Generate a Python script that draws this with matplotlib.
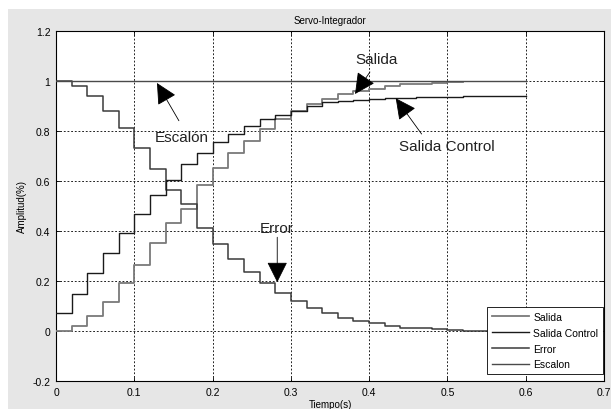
import matplotlib
matplotlib.use("Agg")
import matplotlib.pyplot as plt
from matplotlib.patches import Rectangle, FancyArrowPatch

# ---- data ----
t_salida = [0.00, 0.02, 0.04, 0.06, 0.08, 0.10, 0.12, 0.14, 0.16, 0.18, 0.20, 0.22, 0.24,
            0.26, 0.28, 0.30, 0.32, 0.34, 0.36, 0.38, 0.40, 0.42, 0.44, 0.46, 0.48, 0.50, 0.52]
salida = [0.0, 0.02, 0.059, 0.115, 0.191, 0.265, 0.352, 0.432, 0.49, 0.584, 0.651, 0.711, 0.761,
          0.808, 0.848, 0.88, 0.908, 0.929, 0.947, 0.96, 0.969, 0.98, 0.987, 0.989, 0.992, 0.996, 0.996]

t_full = [0.00, 0.02, 0.04, 0.06, 0.08, 0.10, 0.12, 0.14, 0.16, 0.18, 0.20, 0.22, 0.24, 0.26,
          0.28, 0.30, 0.32, 0.34, 0.36, 0.38, 0.40, 0.42, 0.44, 0.46, 0.48, 0.50, 0.52, 0.54,
          0.56, 0.58, 0.60]
salida_control = [0.072, 0.148, 0.231, 0.312, 0.392, 0.468, 0.544, 0.604, 0.668, 0.711, 0.755,
                  0.79, 0.822, 0.848, 0.866, 0.881, 0.899, 0.915, 0.922, 0.925, 0.928, 0.931,
                  0.933, 0.935, 0.937, 0.938, 0.939, 0.94, 0.94, 0.94, 0.94]
error = [1.0, 0.98, 0.94, 0.881, 0.811, 0.732, 0.65, 0.565, 0.508, 0.412, 0.348, 0.287, 0.237,
         0.191, 0.152, 0.122, 0.092, 0.071, 0.053, 0.04, 0.031, 0.02, 0.013, 0.011, 0.008,
         0.004, 0.0, 0.0, 0.0, 0.0, 0.0]
t_escalon = [0.0, 0.6]
escalon = [1.0, 1.0]

x_ticks = [0, 0.1, 0.2, 0.3, 0.4, 0.5, 0.6, 0.7]
x_ticklabels = ["0", "0.1", "0.2", "0.3", "0.4", "0.5", "0.6", "0.7"]
y_ticks = [-0.2, 0, 0.2, 0.4, 0.6, 0.8, 1.0, 1.2]
y_ticklabels = ["-0.2", "0", "0.2", "0.4", "0.6", "0.8", "1", "1.2"]

plt.rcParams['font.family'] = ['Liberation Sans', 'DejaVu Sans']

W, H = 611, 410
fig = plt.figure(figsize=(W / 100, H / 100), dpi=100, facecolor='white')
fig.patches.append(Rectangle((8 / W, 0), 1 - 8 / W, 1 - 10 / H, transform=fig.transFigure,
                             facecolor='#e6e6e6', edgecolor='none', zorder=-10))

ax = fig.add_axes([56 / W, (H - 382) / H, (604 - 56) / W, (382 - 32) / H])
ax.set_facecolor('white')

ax.plot(t_salida, salida, drawstyle='steps-post', color='#7a7a7a', lw=1.3, label='Salida', zorder=3)
ax.plot(t_full, salida_control, drawstyle='steps-post', color='#1a1a1a', lw=1.0,
        label='Salida Control', zorder=4)
ax.plot(t_full, error, drawstyle='steps-post', color='#3a3a3a', lw=1.1, label='Error', zorder=3)
ax.plot(t_escalon, escalon, color='#4a4a4a', lw=1.0, label='Escalon', zorder=3)

ax.set_xlim(0, 0.7)
ax.set_ylim(-0.2, 1.2)
ax.set_xticks(x_ticks)
ax.set_xticklabels(x_ticklabels)
ax.set_yticks(y_ticks)
ax.set_yticklabels(y_ticklabels)
ax.tick_params(direction='in', length=3, width=0.6, labelsize=7.5, top=True, right=True,
               colors='black', pad=4)
ax.grid(True, color='black', linestyle=(0, (2.2, 2.2)), lw=0.6)
for s in ax.spines.values():
    s.set_linewidth(0.8)
    s.set_color('black')

ax.set_title('Servo-Integrador', fontsize=7, pad=6)
ax.set_xlabel('Tiempo(s)', fontsize=7, labelpad=2)
ax.set_ylabel('Amplitud(%)', fontsize=7, labelpad=4)


def arrow(tail, tip):
    a = FancyArrowPatch(tail, tip, arrowstyle='-|>,head_length=13,head_width=6.5',
                        mutation_scale=1, color='black', lw=0.6, zorder=6,
                        shrinkA=0, shrinkB=0)
    ax.add_patch(a)


# annotations
ax.text(0.409, 1.088, 'Salida', fontsize=11, ha='center', va='center', color='#222222')
arrow((0.401, 1.036), (0.382, 0.948))

ax.text(0.161, 0.776, 'Escalón', fontsize=11, ha='center', va='center', color='#222222')
arrow((0.157, 0.841), (0.129, 0.992))

ax.text(0.499, 0.741, 'Salida Control', fontsize=11, ha='center', va='center', color='#222222')
arrow((0.467, 0.788), (0.434, 0.931))

ax.text(0.282, 0.411, 'Error', fontsize=11, ha='center', va='center', color='#222222')
arrow((0.2826, 0.375), (0.2826, 0.195))

leg = ax.legend(loc='lower right', bbox_to_anchor=(0.998, 0.02), borderaxespad=0,
                fontsize=7.5, frameon=True, fancybox=False, handlelength=3.6,
                labelspacing=0.55, handletextpad=0.4, borderpad=0.45)
leg.get_frame().set_edgecolor('black')
leg.get_frame().set_linewidth(0.6)
leg.get_frame().set_alpha(1)

fig.savefig('out.png', dpi=100, facecolor=fig.get_facecolor())
